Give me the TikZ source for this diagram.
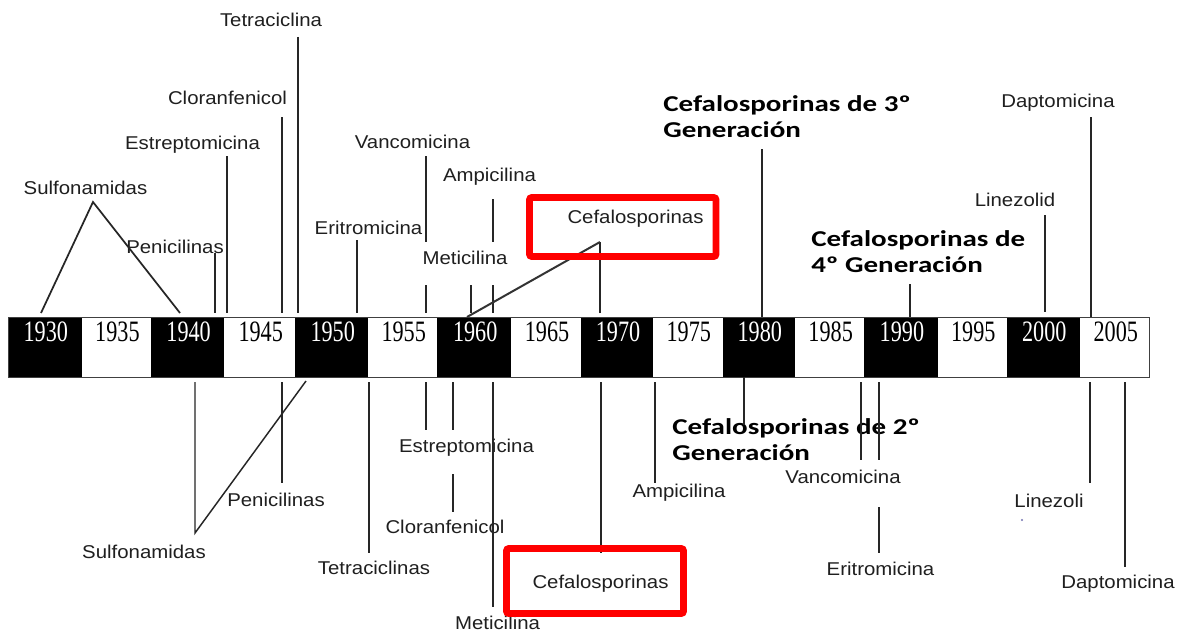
\documentclass[tikz,border=0pt]{standalone}
\usepackage{fontspec}
\setmainfont{Liberation Sans}
\newfontfamily\labf[FakeStretch=1.1]{Liberation Sans}
\newfontfamily\yearf[FakeStretch=0.75]{Liberation Serif}
\newfontfamily\boldf[FakeStretch=1.28]{Carlito}
\begin{document}
\begin{tikzpicture}[x=0.75pt,y=-0.75pt,
  lab/.style={font=\labf\fontsize{13.9}{16}\selectfont, text=black!88, inner sep=0pt, anchor=base},
  blab/.style={font=\boldf\bfseries\fontsize{17}{19.5}\selectfont, text=black, inner sep=0pt, align=left, anchor=west},
  yr/.style={font=\yearf\fontsize{22.2}{24}\selectfont, inner sep=0pt},
  conn/.style={draw=black!85, line width=1.1pt},
  diag/.style={draw=black!80, line width=1.5pt},
  redbox/.style={draw=red, line width=4.9pt, rounded corners=1.5pt}]
\useasboundingbox[fill=white] (0,0) rectangle (1184,635);

% time bar
\foreach \a/\b in {8/81.5,151.2/224,295.4/368,437.4/511,581/653,722.5/795,864.3/937.5,1007/1079.6}
  \fill[black] (\a,317) rectangle (\b,378);
\draw[draw=black!75,line width=1.1pt] (8.6,317.6) rectangle (1149.4,377.4);

\foreach \n/\x/\c in {1930/45.8/white,1935/117.4/black,1940/188.6/white,1945/260.7/black,
  1950/332.7/white,1955/403.7/black,1960/475.2/white,1965/547/black,1970/618/white,
  1975/688.75/black,1980/759.75/white,1985/830.65/black,1990/901.9/white,
  1995/973.25/black,2000/1044.3/white,2005/1115.8/black}
  \node[yr,text=\c] (y\n) at (\x,332) {\n};

% top labels
\node[lab] (sulfT) at (85.5,194.5) {Sulfonamidas};
\node[lab] (penT) at (175,253.5) {Penicilinas};
\node[lab] (estT) at (192.5,149.5) {Estreptomicina};
\node[lab] (cloT) at (227.5,104.5) {Cloranfenicol};
\node[lab] (tetT) at (271,26.5) {Tetraciclina};
\node[lab] (eriT) at (368.5,234.5) {Eritromicina};
\node[lab] (vanT) at (412.5,148.5) {Vancomicina};
\node[lab] (ampT) at (489.5,181.5) {Ampicilina};
\node[lab] (metT) at (465,264.5) {Meticilina};
\node[lab] (cefT) at (635.5,223.5) {Cefalosporinas};
\node[lab] (linT) at (1015,206.5) {Linezolid};
\node[lab] (dapT) at (1058,107.5) {Daptomicina};
\node[blab] (c3) at (663,116.5) {Cefalosporinas de 3º\\Generación};
\node[blab] (c4) at (811,251.5) {Cefalosporinas de\\4º Generación};

% bottom labels
\node[lab] (sulfB) at (144,558.5) {Sulfonamidas};
\node[lab] (penB) at (276,506.5) {Penicilinas};
\node[lab] (tetB) at (374,574.5) {Tetraciclinas};
\node[lab] (estB) at (466.5,452.5) {Estreptomicina};
\node[lab] (cloB) at (445,533.5) {Cloranfenicol};
\node[lab] (metB) at (497.5,629.5) {Meticilina};
\node[lab] (cefB) at (600.5,588.5) {Cefalosporinas};
\node[lab] (ampB) at (679,497.5) {Ampicilina};
\node[blab] (c2) at (672,439.5) {Cefalosporinas de 2º\\Generación};
\node[lab] (vanB) at (843,483.5) {Vancomicina};
\node[lab] (eriB) at (880.5,575.5) {Eritromicina};
\node[lab] (linB) at (1049,507.5) {Linezoli};
\node[lab] (dapB) at (1118,588.5) {Daptomicina};
\fill[blue!45!black!55] (1022,520) circle (1.1);

% straight connectors
\foreach \n/\x/\ya/\yb in {penT/215/253/313, estT/227/156/313, cloT/282/117/313,
  tetT/298/37/313, eriT/357/240/313, vanTa/426/156/242, vanTb/426/285/313,
  ampTa/493/199/242, ampTb/493/285/313, metT/471/285/313, c3/762/149/317,
  c4/910/284/317, linT/1045/215/312, dapT/1091/117/317,
  penB/282/382/483, tetB/369/382/553, estB/426/382/430, cloBa/453/382/430,
  cloBb/453/474/512, metB/493/382/607, cefB/601/382/553, ampB/655/382/483,
  c2/744/377/425, vanBa/861/382/460, vanBb/879/382/460, eriB/879/507/553,
  linB/1090/382/483, dapB/1125/382/567}
{
  \coordinate (\n-a) at (\x,\ya);
  \coordinate (\n-b) at (\x,\yb);
  \draw[conn] (\n-a) -- (\n-b);
}

% Sulfonamidas (top)
\coordinate (sT-apex) at (93,202);
\coordinate (sT-l) at (41,313);
\coordinate (sT-r) at (180,313);
\draw[conn,line width=1.3pt] (sT-l) -- (sT-apex) -- (sT-r);
% Sulfonamidas (bottom)
\coordinate (sB-top) at (195,382);
\coordinate (sB-v) at (195,533);
\coordinate (sB-d) at (306,381);
\draw[conn] (sB-top) -- (sB-v) -- (sB-d);
% Cefalosporinas (top)
\coordinate (cT-bar) at (600,313);
\coordinate (cT-apex) at (600,242);
\coordinate (cT-d) at (467,317);
\draw[conn] (cT-bar) -- (cT-apex);
\draw[diag] (cT-apex) -- (cT-d);

% red frames
\draw[redbox] (529.5,197.5) rectangle (716,256.5);
\draw[redbox] (506.5,548.5) rectangle (683.5,613.5);
\end{tikzpicture}
\end{document}
